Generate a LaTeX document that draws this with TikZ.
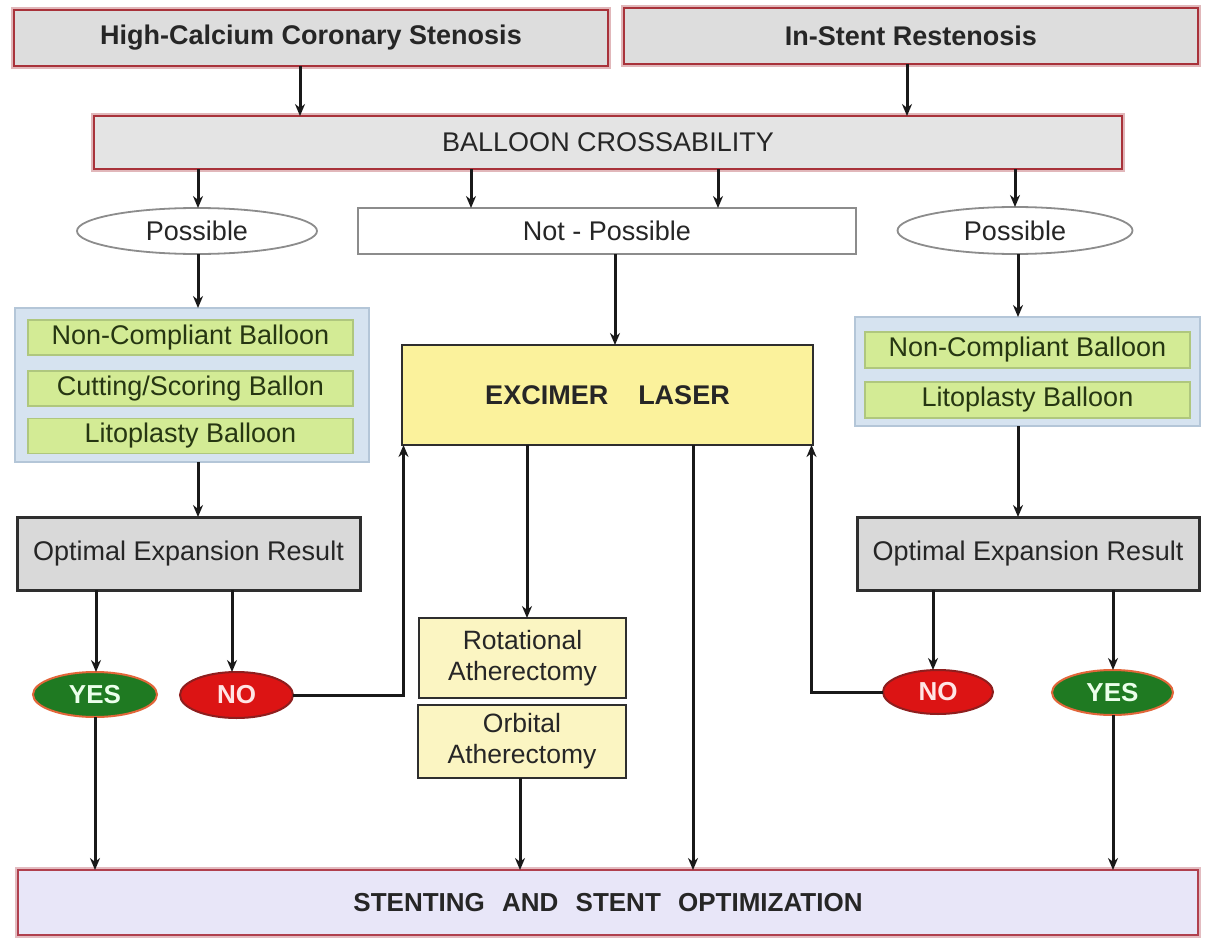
\documentclass[tikz,border=0pt]{standalone}
\usepackage{fontspec}
\setmainfont{Liberation Sans}
\usetikzlibrary{shapes.geometric,arrows.meta}

\definecolor{hdrfill}{HTML}{DDDDDD}
\definecolor{hdrline}{HTML}{A8323A}
\definecolor{crossfill}{HTML}{E4E4E4}
\definecolor{ovalline}{HTML}{8C8C8C}
\definecolor{panelfill}{HTML}{D6E3F0}
\definecolor{panelline}{HTML}{B4C6D8}
\definecolor{greenfill}{HTML}{D3EB95}
\definecolor{greenline}{HTML}{AFC77E}
\definecolor{greentext}{HTML}{263612}
\definecolor{optfill}{HTML}{D9D9D9}
\definecolor{darkline}{HTML}{2E2E2E}
\definecolor{yesfill}{HTML}{1F7A22}
\definecolor{yesline}{HTML}{E2663A}
\definecolor{nofill}{HTML}{DC1414}
\definecolor{noline}{HTML}{8E1E1E}
\definecolor{laserfill}{HTML}{FBF29C}
\definecolor{atherfill}{HTML}{FBF5C2}
\definecolor{stentfill}{HTML}{E8E6F8}
\definecolor{stentline}{HTML}{B0404E}
\definecolor{txt}{HTML}{262626}

\tikzset{
  every node/.style={inner sep=0pt, outer sep=0pt, align=center, text=txt,
    font=\fontsize{27}{31}\selectfont},
  halo/.style={preaction={draw=#1!35, line width=5.5pt}},
  hdrbox/.style={rectangle, draw=hdrline, fill=hdrfill, line width=2.4pt,
    halo=hdrline, font=\fontsize{27}{31}\selectfont\bfseries},
  crossbox/.style={rectangle, draw=hdrline, fill=crossfill, line width=2.2pt,
    halo=hdrline},
  oval/.style={ellipse, draw=ovalline, fill=white, line width=1.8pt},
  plainbox/.style={rectangle, draw=ovalline, fill=white, line width=2pt},
  panel/.style={rectangle, draw=panelline, fill=panelfill, line width=1.8pt},
  greenbox/.style={rectangle, draw=greenline, fill=greenfill, line width=1.5pt,
    text=greentext},
  optbox/.style={rectangle, draw=darkline, fill=optfill, line width=3pt},
  yesnode/.style={ellipse, draw=yesline, fill=yesfill, line width=2pt,
    text=white!92!green, font=\fontsize{26}{30}\selectfont\bfseries},
  nonode/.style={ellipse, draw=noline, fill=nofill, line width=2pt,
    text=white!90!red, font=\fontsize{26}{30}\selectfont\bfseries},
  laserbox/.style={rectangle, draw=darkline, fill=laserfill, line width=2.8pt,
    font=\fontsize{27}{31}\selectfont\bfseries},
  atherbox/.style={rectangle, draw=darkline, fill=atherfill, line width=2.8pt,
    font=\fontsize{26.5}{31}\selectfont},
  stentbox/.style={rectangle, draw=stentline, fill=stentfill, line width=2.6pt,
    halo=stentline, font=\fontsize{26}{30}\selectfont\bfseries},
  arr/.style={draw=black!90, line width=3pt,
    -{Stealth[length=12pt,width=10pt]}},
}

\begin{document}
\begin{tikzpicture}[x=1pt,y=-1pt]
  \useasboundingbox[fill=white] (0,0) rectangle (1205,942);

  % entry conditions
  \node[hdrbox, minimum width=594, minimum height=56] (hcs) at (311,38)
    {High-Calcium Coronary Stenosis};
  \node[hdrbox, minimum width=574, minimum height=56] (isr) at (911,36)
    {In-Stent Restenosis};

  \node[crossbox, minimum width=1028, minimum height=53] (bc) at (608,142.5)
    {BALLOON CROSSABILITY};

  % crossability outcomes
  \node[oval, minimum width=240, minimum height=46] (possL) at (197,231) {Possible};
  \node[plainbox, minimum width=498, minimum height=46] (np) at (607,231) {Not - Possible};
  \node[oval, minimum width=235, minimum height=47] (possR) at (1015,230.5) {Possible};

  % balloon options, left
  \node[panel, minimum width=354, minimum height=154] (panelL) at (192,385) {};
  \node[greenbox, minimum width=325, minimum height=35] (gL1) at (190.5,337.5)
    {Non-Compliant Balloon};
  \node[greenbox, minimum width=325, minimum height=35] (gL2) at (190.5,388.5)
    {Cutting/Scoring Ballon};
  \node[greenbox, minimum width=325, minimum height=35] (gL3) at (190.5,436)
    {Litoplasty Balloon};

  % balloon options, right
  \node[panel, minimum width=345, minimum height=109] (panelR) at (1027.5,371.5) {};
  \node[greenbox, minimum width=325, minimum height=36] (gR1) at (1027.5,350)
    {Non-Compliant Balloon};
  \node[greenbox, minimum width=325, minimum height=36] (gR2) at (1027.5,400)
    {Litoplasty Balloon};

  % expansion results
  \node[optbox, minimum width=343, minimum height=73] (optL) at (188.5,553.5)
    {Optimal Expansion Result};
  \node[optbox, minimum width=342, minimum height=73] (optR) at (1028,553.5)
    {Optimal Expansion Result};

  \node[yesnode, minimum width=124, minimum height=45] (yesL) at (95,694.5) {YES};
  \node[nonode, minimum width=113, minimum height=46] (noL) at (236.5,695) {NO};
  \node[nonode, minimum width=110, minimum height=44] (noR) at (938,692) {NO};
  \node[yesnode, minimum width=121, minimum height=45] (yesR) at (1112.5,692.5) {YES};

  % laser and atherectomy
  \node[laserbox, minimum width=411, minimum height=100] (exc) at (607.5,395)
    {EXCIMER\hspace{30pt}LASER};
  \node[atherbox, minimum width=207, minimum height=80] (rot) at (522.5,658)
    {Rotational\\Atherectomy};
  \node[atherbox, minimum width=208, minimum height=73] (orb) at (522,741.5)
    {Orbital\\Atherectomy};

  % final step
  \node[stentbox, minimum width=1180, minimum height=65] (stent) at (608,902.5)
    {STENTING\hspace{10pt} AND\hspace{10pt} STENT\hspace{10pt} OPTIMIZATION};

  % connectors
  \draw[arr] (300,0 |- hcs.south) -- (300,0 |- bc.north);
  \draw[arr] (907,0 |- isr.south) -- (907,0 |- bc.north);

  \draw[arr] (198,0 |- bc.south) -- (198,0 |- possL.north);
  \draw[arr] (471,0 |- bc.south) -- (471,0 |- np.north);
  \draw[arr] (718,0 |- bc.south) -- (718,0 |- np.north);
  \draw[arr] (1015,0 |- bc.south) -- (possR.north);

  \draw[arr] (198,0 |- possL.south) -- (198,0 |- panelL.north);
  \draw[arr] (615,0 |- np.south) -- (615,0 |- exc.north);
  \draw[arr] (1018,0 |- possR.south) -- (1018,0 |- panelR.north);

  \draw[arr] (198,0 |- panelL.south) -- (198,0 |- optL.north);
  \draw[arr] (1018,0 |- panelR.south) -- (1018,0 |- optR.north);

  \draw[arr] (96,0 |- optL.south) -- (96,0 |- yesL.north);
  \draw[arr] (232,0 |- optL.south) -- (232,0 |- noL.north);
  \draw[arr] (933,0 |- optR.south) -- (933,0 |- noR.north);
  \draw[arr] (1113,0 |- optR.south) -- (1113,0 |- yesR.north);

  \draw[arr] (noL.east) -| ([xshift=1.5pt]exc.south west);
  \draw[arr] (noR.west) -| ([xshift=-1.5pt]exc.south east);

  \draw[arr] (527,0 |- exc.south) -- (527,0 |- rot.north);
  \draw[arr] (693,0 |- exc.south) -- (693,0 |- stent.north);
  \draw[arr] (520,0 |- orb.south) -- (520,0 |- stent.north);
  \draw[arr] (95,0 |- yesL.south) -- (95,0 |- stent.north);
  \draw[arr] (1113,0 |- yesR.south) -- (1113,0 |- stent.north);
\end{tikzpicture}
\end{document}
